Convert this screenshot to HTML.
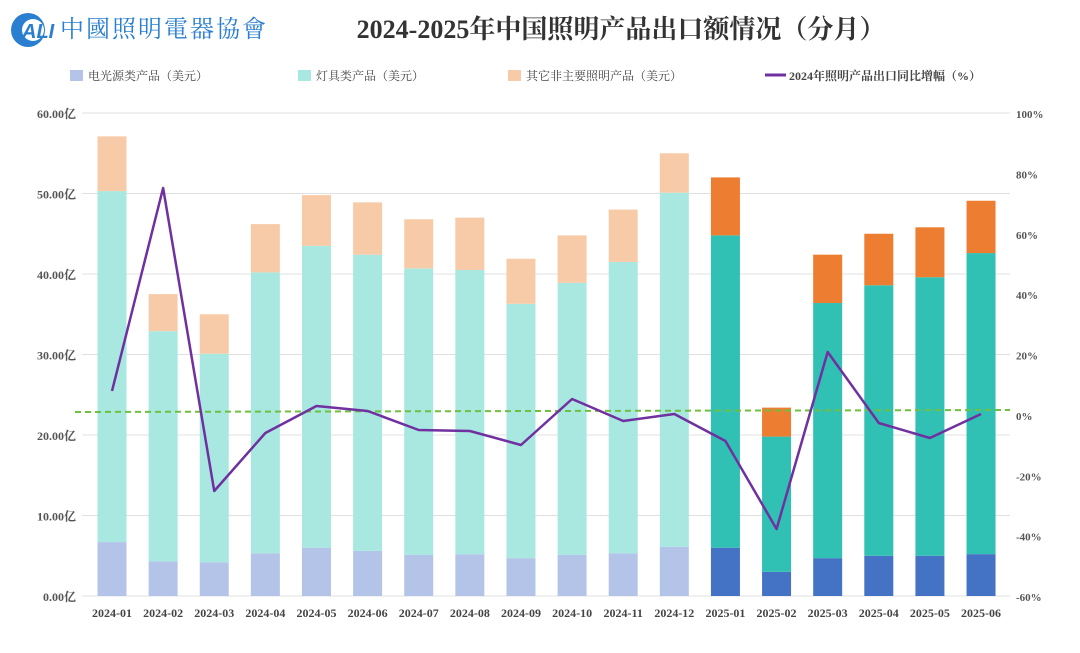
<!DOCTYPE html>
<html><head><meta charset="utf-8"><style>
body{margin:0;background:#fff;width:1080px;height:648px;overflow:hidden}
svg text{font-family:"Liberation Serif","Noto Serif CJK SC",serif}
</style></head><body>
<svg id="s" width="1080" height="648" xmlns="http://www.w3.org/2000/svg">
<circle cx="28" cy="30" r="17" fill="#2a7fd0"/>
<circle cx="33" cy="30" r="11" fill="#fff"/>
<text x="22" y="38" font-size="20" font-weight="bold" font-style="italic" fill="#2a7fd0" style="font-family:'Liberation Sans',sans-serif">ALI</text>
<text x="60" y="37" font-size="24" fill="#2a7fd0" letter-spacing="2" style="font-family:'Noto Serif CJK SC',serif">中國照明電器協會</text>
<text x="621" y="38" font-size="26" font-weight="bold" text-anchor="middle" fill="#333">2024-2025年中国照明产品出口额情况（分月）</text>
<rect x="70" y="70" width="13" height="11" fill="#b4c4e8"/><text x="88" y="80" font-size="12" fill="#444">电光源类产品（美元）</text>
<rect x="298" y="70" width="13" height="11" fill="#a8e8e0"/><text x="316" y="80" font-size="12" fill="#444">灯具类产品（美元）</text>
<rect x="508" y="70" width="13" height="11" fill="#f8cba8"/><text x="526" y="80" font-size="12" fill="#444">其它非主要照明产品（美元）</text>
<line x1="765" y1="75" x2="786" y2="75" stroke="#7030a0" stroke-width="3"/><text x="789" y="80" font-size="12" fill="#444" font-weight="bold">2024年照明产品出口同比增幅（%）</text>
<g id="g"></g>
</svg>
<script>
var g=document.getElementById('g'),h='';
var tot=[57.1,37.5,35.0,46.2,49.8,48.9,46.8,47.0,41.9,44.8,48.0,55.0,52.0,23.4,42.4,45.0,45.8,49.1];
var lam=[50.3,32.9,30.1,40.2,43.5,42.4,40.7,40.5,36.3,38.9,41.5,50.1,44.8,19.8,36.4,38.6,39.6,42.6];
var el=[6.7,4.3,4.2,5.3,6.0,5.6,5.1,5.2,4.7,5.1,5.3,6.1,6.0,3.0,4.7,5.0,5.0,5.2];
var ly=[391,188,491,433,406,411,430,431,445,399,421,414,441,529,352,423,438,414];
var lab=['2024-01','2024-02','2024-03','2024-04','2024-05','2024-06','2024-07','2024-08','2024-09','2024-10','2024-11','2024-12','2025-01','2025-02','2025-03','2025-04','2025-05','2025-06'];
var Y=function(v){return 596-v*8.05};
for(var k=0;k<=6;k++){var y=596-80.5*k;
h+='<line x1="82" x2="1010" y1="'+y+'" y2="'+y+'" stroke="#e0e0e0"/>';
h+='<text x="76" y="'+(y+5)+'" font-size="12" font-weight="bold" text-anchor="end" fill="#555">'+(k*10)+'.00亿</text>';}
for(var k=0;k<=8;k++){var y=596-60.375*k;
h+='<text x="1016" y="'+(y+5)+'" font-size="11" font-weight="bold" fill="#555">'+(k*20-60)+'%</text>';}
for(var i=0;i<18;i++){var cx=112+i*51.12,x=cx-14.5,d=i>=12;
h+='<rect x="'+x+'" width="29" y="'+Y(el[i])+'" height="'+(el[i]*8.05)+'" fill="'+(d?'#4472c4':'#b4c4e8')+'"/>';
h+='<rect x="'+x+'" width="29" y="'+Y(lam[i])+'" height="'+((lam[i]-el[i])*8.05)+'" fill="'+(d?'#30c0b4':'#a8e8e0')+'"/>';
h+='<rect x="'+x+'" width="29" y="'+Y(tot[i])+'" height="'+((tot[i]-lam[i])*8.05)+'" fill="'+(d?'#ed7d31':'#f8cba8')+'"/>';
h+='<text x="'+cx+'" y="617" font-size="12" font-weight="bold" text-anchor="middle" fill="#444">'+lab[i]+'</text>';}
var p='';for(var i=0;i<18;i++)p+=(112+i*51.12)+','+ly[i]+' ';
h+='<line x1="75" x2="1010" y1="412" y2="410" stroke="#70c040" stroke-width="2" stroke-dasharray="6,4"/>';
h+='<polyline points="'+p+'" fill="none" stroke="#7030a0" stroke-width="2.5" stroke-linejoin="round"/>';
g.innerHTML=h;
</script>
</body></html>
